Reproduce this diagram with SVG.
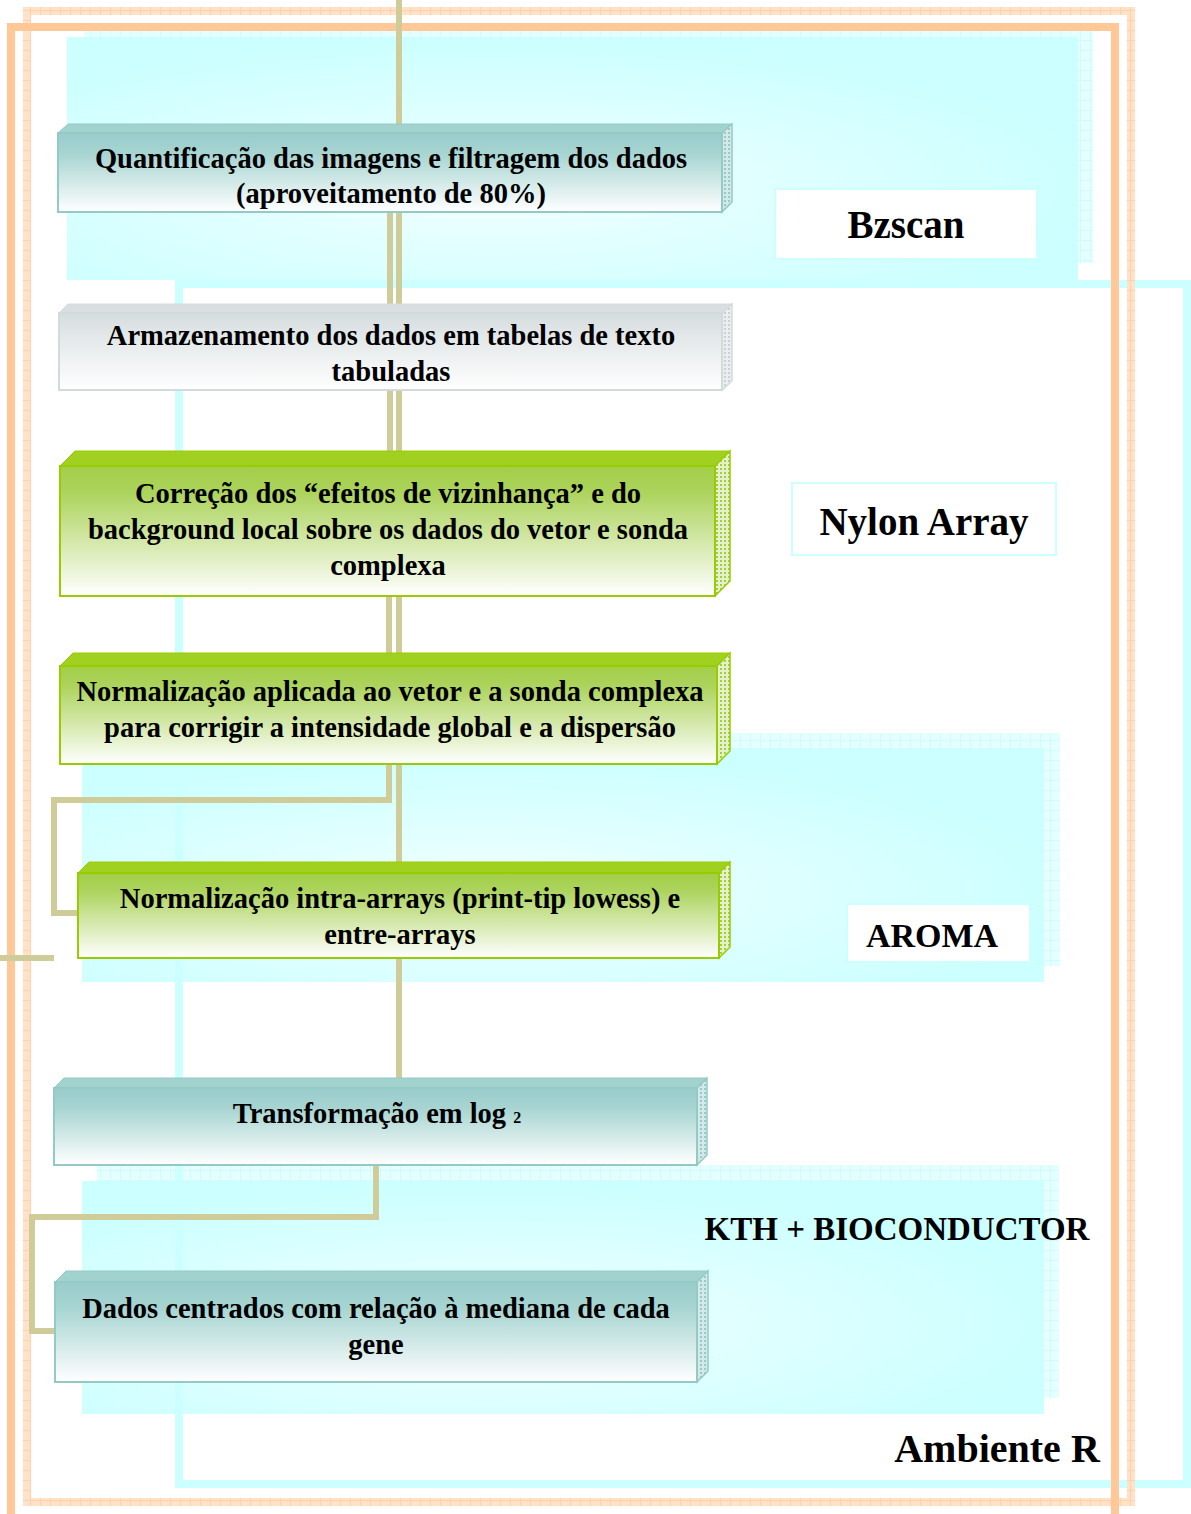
<svg xmlns="http://www.w3.org/2000/svg" width="1191" height="1514" viewBox="0 0 1191 1514">
  <defs>
    <style>
      .frame-solid { fill: none; stroke: #ffc896; stroke-width: 8; }
      .frame-hatch { fill: none; stroke: url(#orangeHatch); stroke-width: 8; }
      .frame-cyan { fill: none; stroke: #ccffff; stroke-width: 8; }
      .zone { fill: url(#cyanGlow); }
      .zone-shadow { fill: url(#cyanGrid); }
      .link { fill: none; stroke: #cfcc9a; stroke-width: 6; stroke-linejoin: miter; }
      .txt { font-family: "Liberation Serif", "Times New Roman", serif; font-weight: bold; fill: #000; text-anchor: middle; }
      .box-text { font-size: 28.5px; }
      .tag { fill: #ffffff; stroke: #ccffff; stroke-width: 2; }
      .teal .front { fill: url(#tealGrad); stroke: #93cac6; stroke-width: 2; }
      .teal .top { fill: #a2d2ce; stroke: #93cac6; stroke-width: 1; }
      .teal .side { fill: url(#tealDots); stroke: #93cac6; stroke-width: 1.5; }
      .gray .front { fill: url(#grayGrad); stroke: #d3dadb; stroke-width: 2; }
      .gray .top { fill: #d9dfe0; stroke: #d3dadb; stroke-width: 1; }
      .gray .side { fill: url(#grayDots); stroke: #d3dadb; stroke-width: 1.5; }
      .green .front { fill: url(#greenGrad); stroke: #99cc00; stroke-width: 2; }
      .green .top { fill: #a0d020; stroke: #99cc00; stroke-width: 1; }
      .green .side { fill: url(#greenDots); stroke: #99cc00; stroke-width: 1.5; }
    </style>

    <!-- light orange border with a faint grid texture -->
    <pattern id="orangeHatch" patternUnits="userSpaceOnUse" width="10" height="10">
      <rect width="10" height="10" fill="#ffe2c8"/>
      <path d="M0,0.5 H10 M0.5,0 V10" stroke="#ffd2ac" stroke-width="1"/>
    </pattern>

    <!-- pale cyan grid used for the offset shadow of each zone -->
    <pattern id="cyanGrid" patternUnits="userSpaceOnUse" width="10" height="10">
      <rect width="10" height="10" fill="#e3ffff"/>
      <path d="M0,0.5 H10 M0.5,0 V10" stroke="#d2fbfb" stroke-width="1"/>
    </pattern>

    <radialGradient id="cyanGlow" cx="0.42" cy="0.62" r="0.6">
      <stop offset="0" stop-color="#f4ffff"/>
      <stop offset="0.4" stop-color="#e2ffff"/>
      <stop offset="1" stop-color="#ccffff"/>
    </radialGradient>

    <linearGradient id="tealGrad" x1="0" y1="0" x2="0" y2="1">
      <stop offset="0" stop-color="#99cccc"/>
      <stop offset="0.25" stop-color="#a6d4d1"/>
      <stop offset="1" stop-color="#ffffff"/>
    </linearGradient>
    <linearGradient id="grayGrad" x1="0" y1="0" x2="0" y2="1">
      <stop offset="0" stop-color="#d6dddf"/>
      <stop offset="1" stop-color="#ffffff"/>
    </linearGradient>
    <linearGradient id="greenGrad" x1="0" y1="0" x2="0" y2="1">
      <stop offset="0" stop-color="#a2cf48"/>
      <stop offset="0.2" stop-color="#acd35c"/>
      <stop offset="1" stop-color="#ffffff"/>
    </linearGradient>

    <!-- dotted textures for the side faces of the blocks -->
    <pattern id="tealDots" patternUnits="userSpaceOnUse" width="4" height="4">
      <rect width="4" height="4" fill="#d2e9e7"/>
      <rect width="2" height="2" fill="#96c9c7"/>
    </pattern>
    <pattern id="grayDots" patternUnits="userSpaceOnUse" width="4" height="4">
      <rect width="4" height="4" fill="#eaeeee"/>
      <rect width="2" height="2" fill="#c9d1d2"/>
    </pattern>
    <pattern id="greenDots" patternUnits="userSpaceOnUse" width="4" height="4">
      <rect width="4" height="4" fill="#e4f1cc"/>
      <rect width="2" height="2" fill="#a2cd3c"/>
    </pattern>
  </defs>

  <rect width="1191" height="1514" fill="#ffffff"/>

  <!-- tool zones -->
  <g id="zones">
    <rect class="zone-shadow" x="84" y="31" width="1009" height="232"/>
    <rect class="zone" x="67" y="37" width="1011" height="243"/>
    <rect class="zone-shadow" x="97" y="733" width="963" height="233"/>
    <rect class="zone" x="82" y="748" width="962" height="234"/>
    <rect class="zone-shadow" x="97" y="1165" width="962" height="233"/>
    <rect class="zone" x="82" y="1181" width="962" height="233"/>
  </g>

  <!-- outer frames -->
  <g id="frames">
    <rect class="frame-cyan" x="179" y="284" width="1008" height="1200"/>
    <rect class="frame-hatch" x="27" y="11" width="1104" height="1491"/>
    <rect class="frame-solid" x="11" y="27" width="1104" height="1500"/>
  </g>

  <!-- connectors -->
  <g id="connectors">
    <path class="link" d="M399,0 V124"/>
    <path class="link" d="M399,212 V304 M390,212 V304"/>
    <path class="link" d="M399,390 V451 M390,390 V451"/>
    <path class="link" d="M399,596 V653 M389,596 V653"/>
    <path class="link" d="M399,764 V862"/>
    <path class="link" d="M389,764 V800 H54 V913 H78"/>
    <path class="link" d="M0,958 H54"/>
    <path class="link" d="M399,958 V1078"/>
    <path class="link" d="M376,1165 V1217 H32 V1331 H55"/>
  </g>

  <!-- processing steps -->
  <g id="step-quantificacao" class="teal">
    <polygon class="top" points="58,133 68,124 732,124 722,133"/>
    <polygon class="side" points="722,133 732,124 732,202 722,212"/>
    <rect class="front" x="58" y="133" width="664" height="79"/>
    <text class="txt box-text" x="391" y="168">Quantificação das imagens e filtragem dos dados</text>
    <text class="txt box-text" x="391" y="203">(aproveitamento de 80%)</text>
  </g>

  <g id="step-armazenamento" class="gray">
    <polygon class="top" points="59,313 68,304 732,304 722,313"/>
    <polygon class="side" points="722,313 732,304 732,381 722,390"/>
    <rect class="front" x="59" y="313" width="663" height="77"/>
    <text class="txt box-text" x="391" y="345">Armazenamento dos dados em tabelas de texto</text>
    <text class="txt box-text" x="391" y="381">tabuladas</text>
  </g>

  <g id="step-correcao" class="green">
    <polygon class="top" points="60,466 75,451 730,451 715,466"/>
    <polygon class="side" points="715,466 730,451 730,581 715,596"/>
    <rect class="front" x="60" y="466" width="655" height="130"/>
    <text class="txt box-text" x="388" y="503">Correção dos “efeitos de vizinhança” e do</text>
    <text class="txt box-text" x="388" y="539">background local sobre os dados do vetor e sonda</text>
    <text class="txt box-text" x="388" y="575">complexa</text>
  </g>

  <g id="step-normalizacao-global" class="green">
    <polygon class="top" points="60,666 73,653 730,653 717,666"/>
    <polygon class="side" points="717,666 730,653 730,751 717,764"/>
    <rect class="front" x="60" y="666" width="657" height="98"/>
    <text class="txt box-text" x="390" y="701">Normalização aplicada ao vetor e a sonda complexa</text>
    <text class="txt box-text" x="390" y="737">para corrigir a intensidade global e a dispersão</text>
  </g>

  <g id="step-normalizacao-arrays" class="green">
    <polygon class="top" points="78,873 89,862 730,862 719,873"/>
    <polygon class="side" points="719,873 730,862 730,947 719,958"/>
    <rect class="front" x="78" y="873" width="641" height="85"/>
    <text class="txt box-text" x="400" y="908">Normalização intra-arrays (print-tip lowess) e</text>
    <text class="txt box-text" x="400" y="944">entre-arrays</text>
  </g>

  <g id="step-log" class="teal">
    <polygon class="top" points="54,1088 64,1078 707,1078 697,1088"/>
    <polygon class="side" points="697,1088 707,1078 707,1155 697,1165"/>
    <rect class="front" x="54" y="1088" width="643" height="77"/>
    <text class="txt box-text" x="377" y="1123">Transformação em log <tspan font-size="16">2</tspan></text>
  </g>

  <g id="step-mediana" class="teal">
    <polygon class="top" points="55,1282 66,1271 708,1271 697,1282"/>
    <polygon class="side" points="697,1282 708,1271 708,1371 697,1382"/>
    <rect class="front" x="55" y="1282" width="642" height="100"/>
    <text class="txt box-text" x="376" y="1318">Dados centrados com relação à mediana de cada</text>
    <text class="txt box-text" x="376" y="1354">gene</text>
  </g>

  <!-- tool labels -->
  <g id="label-bzscan">
    <rect class="tag" x="775" y="189" width="262" height="70"/>
    <text class="txt" x="906" y="238" font-size="39">Bzscan</text>
  </g>
  <g id="label-nylon">
    <rect class="tag" x="792" y="483" width="264" height="72"/>
    <text class="txt" x="924" y="535" font-size="39">Nylon Array</text>
  </g>
  <g id="label-aroma">
    <rect class="tag" x="847" y="904" width="183" height="58"/>
    <text class="txt" x="932" y="947" font-size="34">AROMA</text>
  </g>
  <g id="label-kth">
    <text class="txt" x="897" y="1240" font-size="33">KTH + BIOCONDUCTOR</text>
  </g>
  <g id="label-ambiente">
    <text class="txt" x="997" y="1462" font-size="40">Ambiente R</text>
  </g>
</svg>
